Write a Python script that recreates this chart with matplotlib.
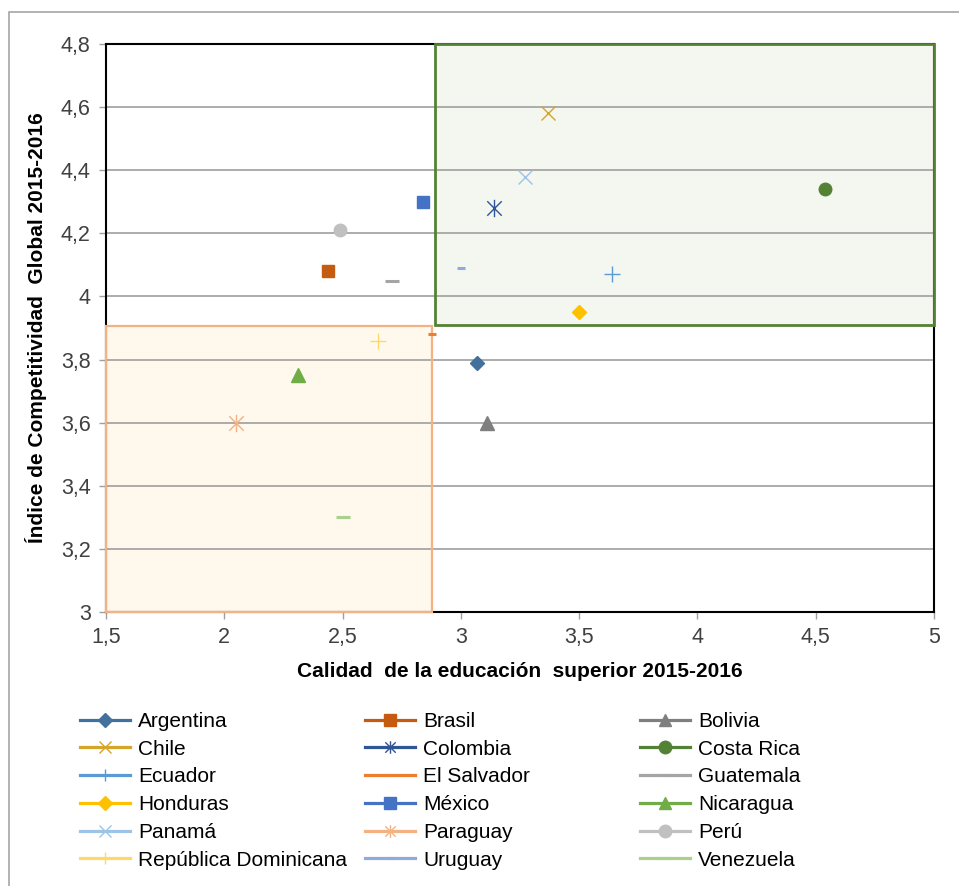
import matplotlib
matplotlib.use("Agg")
import matplotlib.pyplot as plt
from matplotlib.patches import Rectangle
from matplotlib.lines import Line2D
from matplotlib.path import Path

plt.rcParams['font.family'] = ['Liberation Sans', 'DejaVu Sans']

# data
paises = ["Argentina", "Brasil", "Bolivia",
          "Chile", "Colombia", "Costa Rica",
          "Ecuador", "El Salvador", "Guatemala",
          "Honduras", "México", "Nicaragua",
          "Panamá", "Paraguay", "Perú",
          "República Dominicana", "Uruguay", "Venezuela"]
educacion = [3.07, 2.44, 3.11,
             3.37, 3.14, 4.54,
             3.64, 2.88, 2.71,
             3.50, 2.84, 2.31,
             3.27, 2.05, 2.49,
             2.65, 3.00, 2.50]
competitividad = [3.79, 4.08, 3.60,
                  4.58, 4.28, 4.34,
                  4.07, 3.88, 4.05,
                  3.95, 4.30, 3.75,
                  4.38, 3.60, 4.21,
                  3.86, 4.09, 3.30]

colores = ["#41719C", "#C55A11", "#7F7F7F",
           "#D4A52A", "#2F5597", "#548235",
           "#5B9BD5", "#ED7D31", "#A5A5A5",
           "#FFC000", "#4472C4", "#70AD47",
           "#9DC3E6", "#F4B183", "#C0C0C0",
           "#FFD966", "#8FAADC", "#A9D18E"]

# Excel style asterisk: an x with a vertical stroke
asterisco = Path([(-1, -1), (1, 1), (-1, 1), (1, -1), (0, -1.2), (0, 1.2)],
                 [Path.MOVETO, Path.LINETO] * 3)
marcadores = ["D", "s", "^", "x", asterisco, "o", "+", "_", "_",
              "D", "s", "^", "x", asterisco, "o", "+", "_", "_"]
tamanos = [7, 9, 10, 10.5, 12.5, 9, 11, 6, 9.5,
           7, 9, 10, 10.5, 12.5, 9, 11, 6, 9.5]

xticks = [1.5, 2, 2.5, 3, 3.5, 4, 4.5, 5]
yticks = [3, 3.2, 3.4, 3.6, 3.8, 4, 4.2, 4.4, 4.6, 4.8]

# quadrant boxes (x0, x1, y0, y1)
caja_verde = (2.89, 5.0, 3.91, 4.8)
caja_naranja = (1.5, 2.88, 3.0, 3.905)


def etiqueta(v):
    s = f"{v:g}"
    return s.replace(".", ",")


fig = plt.figure(figsize=(9.59, 8.86), dpi=100)
ax = fig.add_axes([106 / 959, 1 - 612 / 886, 828 / 959, 568 / 886])

ax.set_xlim(1.5, 5)
ax.set_ylim(3, 4.8)
ax.set_xticks(xticks)
ax.set_yticks(yticks)
ax.set_xticklabels([etiqueta(v) for v in xticks], fontsize=15.5, color="#404040")
ax.set_yticklabels([etiqueta(v) for v in yticks], fontsize=15.5, color="#404040")
ax.tick_params(direction="out", length=5, color="#a0a0a0", width=1, pad=6)
ax.set_axisbelow(True)
ax.yaxis.grid(True, color="#a6a6a6", linewidth=1.3)
for sp in ax.spines.values():
    sp.set_color("black")
    sp.set_linewidth(1.5)

# fills below the grid, edges on top of the spines
for (x0, x1, y0, y1), fondo, borde, lw in [
        (caja_verde, "#f3f7f0", "#548235", 2.0),
        (caja_naranja, "#fff8ec", "#f4b183", 1.6)]:
    ax.add_patch(Rectangle((x0, y0), x1 - x0, y1 - y0, facecolor=fondo,
                           edgecolor="none", zorder=0.2))
    ax.add_patch(Rectangle((x0, y0), x1 - x0, y1 - y0, facecolor="none",
                           edgecolor=borde, linewidth=lw, zorder=2.6,
                           clip_on=False))

handles = []
for i, p in enumerate(paises):
    m = marcadores[i]
    mew = 2.2 if isinstance(m, str) and m == "_" else 1.0
    ax.plot(educacion[i], competitividad[i], linestyle="none", marker=m,
            markersize=tamanos[i], color=colores[i], markeredgewidth=mew,
            zorder=3)
    handles.append(Line2D([], [], color=colores[i], linewidth=2.3, marker=m,
                          markersize=min(tamanos[i], 9), markeredgewidth=mew))

ax.set_xlabel("Calidad  de la educación  superior 2015-2016", fontsize=15,
              fontweight="bold", labelpad=10)
ax.set_ylabel("Índice de Competitividad  Global 2015-2016", fontsize=15,
              fontweight="bold", labelpad=10)

# legend in three equal columns
for c, x in enumerate([80, 365, 640]):
    idx = list(range(c, len(paises), 3))
    fig.legend([handles[i] for i in idx], [paises[i] for i in idx],
               loc="upper left", bbox_to_anchor=(x / 959, 1 - 712 / 886),
               frameon=False, fontsize=15, handlelength=2.4,
               handletextpad=0.4, labelspacing=0.42, borderaxespad=0,
               borderpad=0)

# thin gray frame around the chart area
fig.add_artist(Rectangle((9 / 959, -0.05), 1.2, 1 - 12 / 886 + 0.05,
                         transform=fig.transFigure, facecolor="none",
                         edgecolor="#a6a6a6", linewidth=1.2))

fig.savefig("out.png", dpi=100)
